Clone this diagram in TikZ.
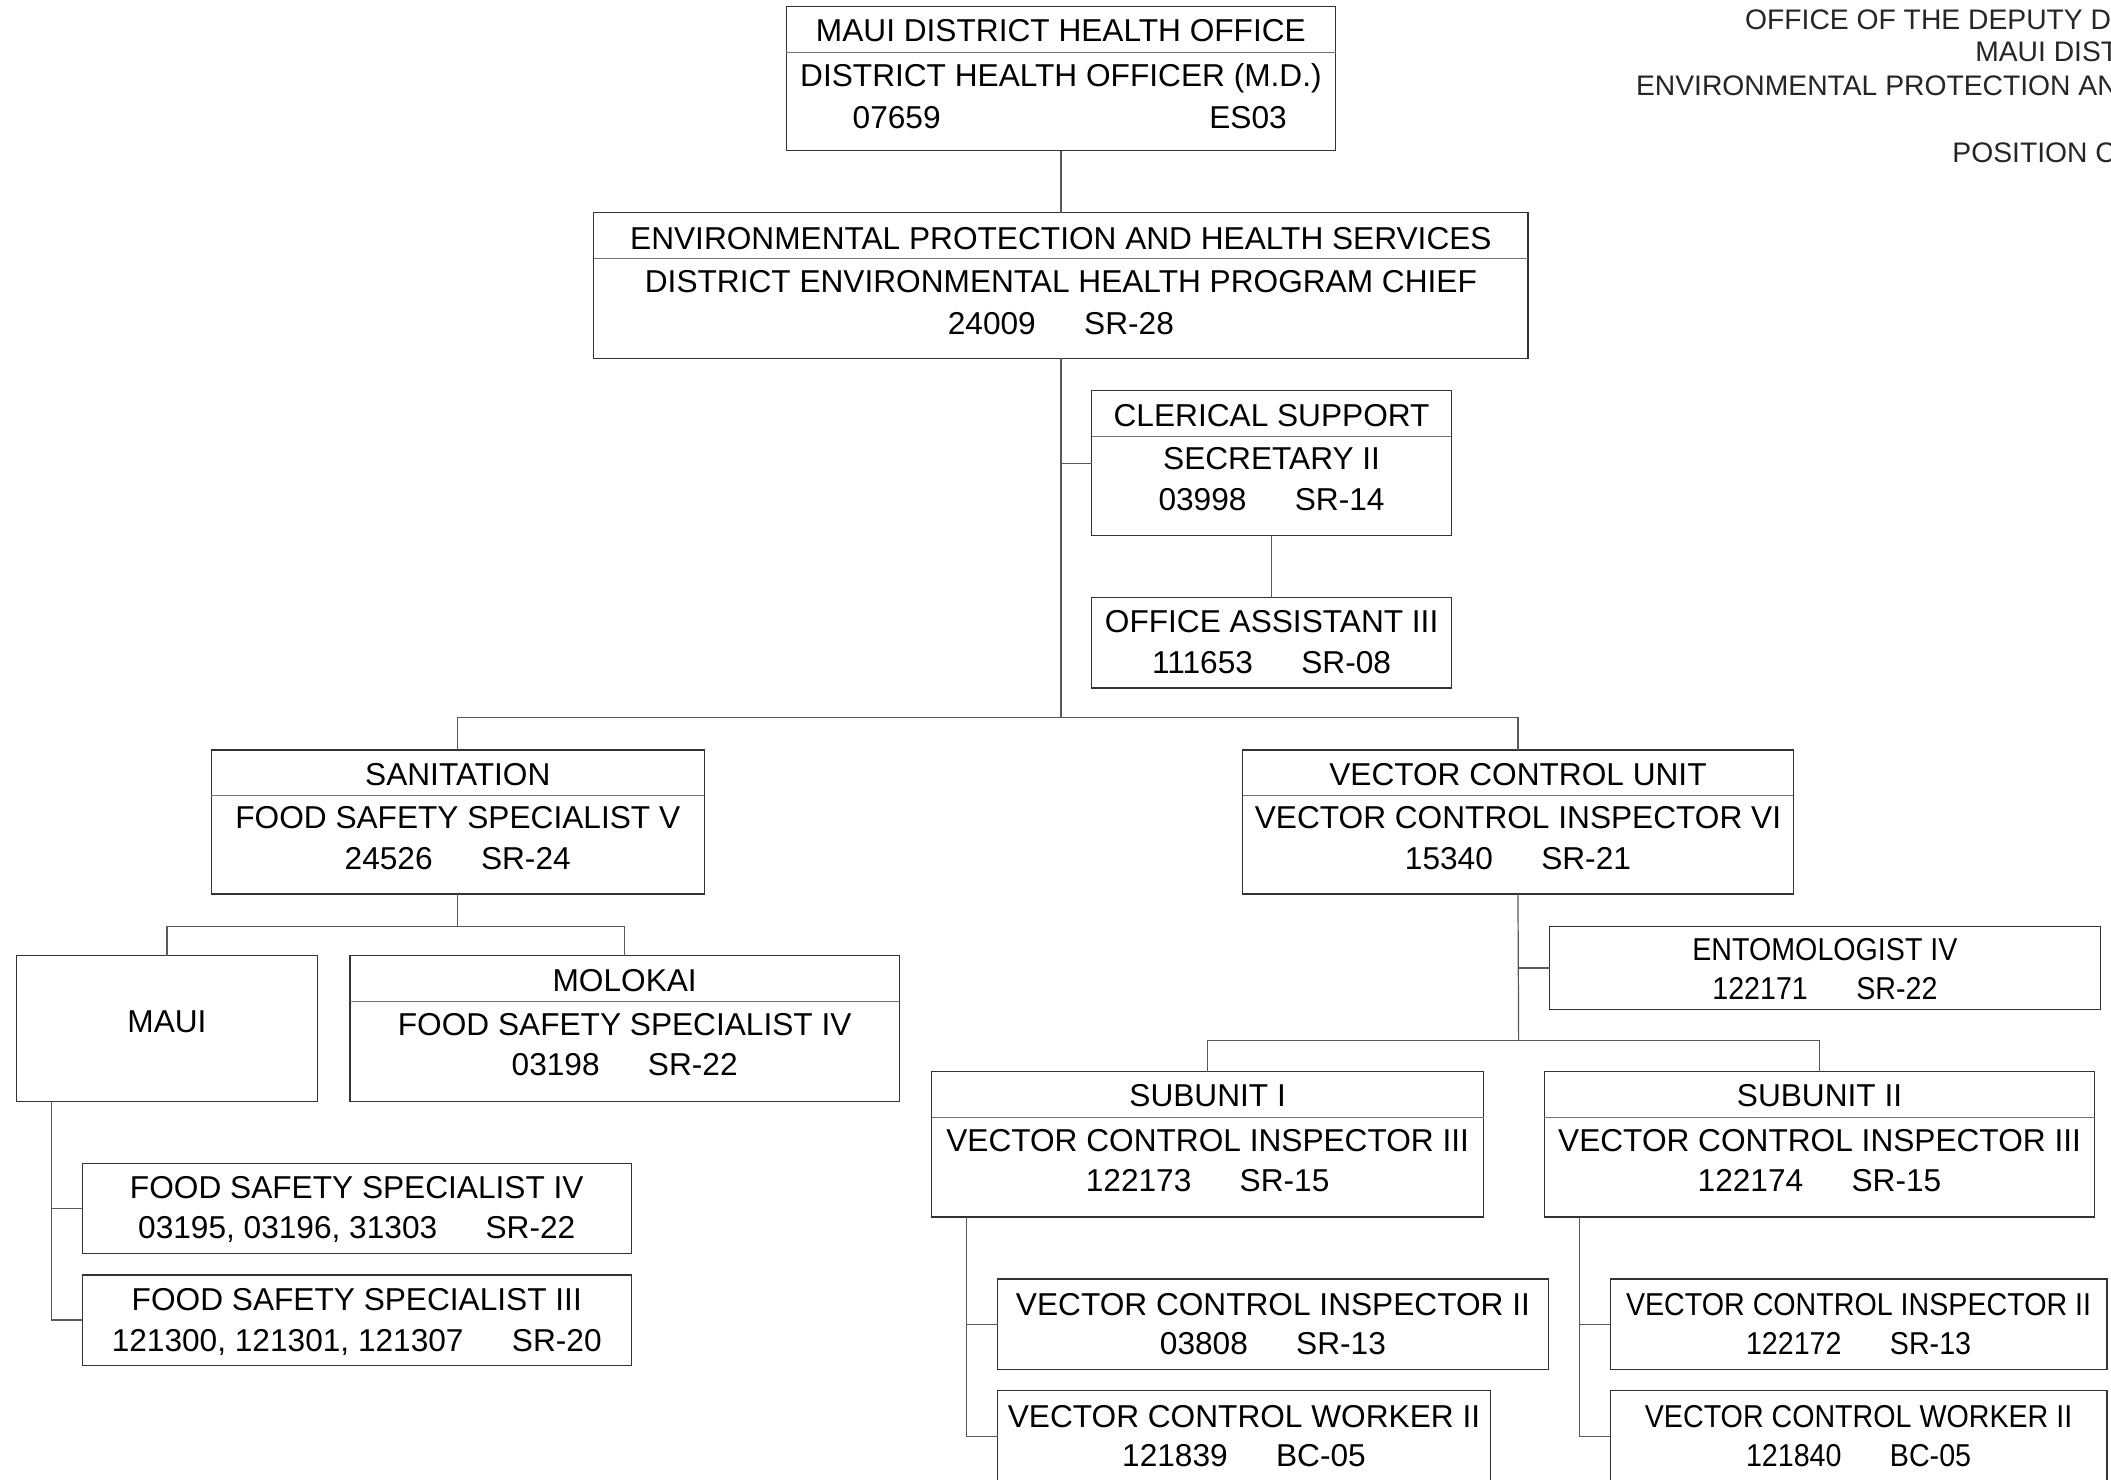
\documentclass[tikz,border=0pt]{standalone}
\usepackage{fontspec}
\setmainfont{Liberation Sans}
\newfontfamily\condfont[FakeStretch=0.905]{Liberation Sans}
\tikzset{
  box/.style={draw=black!80, line width=0.9pt, inner sep=0pt, outer sep=0pt, anchor=north west},
  txt/.style={inner sep=0pt, text height=0.716em, text depth=0pt, yshift=-4.5pt, font=\fontsize{23.5}{28}\selectfont, text=black},
  ctxt/.style={txt, font=\fontsize{23.5}{28}\condfont},
  htxt/.style={inner sep=0pt, text height=0.716em, text depth=0pt, yshift=-4pt, font=\fontsize{21}{25}\selectfont, text=black!85, anchor=west},
  conn/.style={draw=black!65, line width=0.9pt},
  divline/.style={draw=black!55, line width=0.9pt}
}
\newcommand{\gap}{\hspace{1.53em}}
\begin{document}
\begin{tikzpicture}[x=1pt,y=-1pt]
\useasboundingbox (0,0) rectangle (1568,1098.6);
\clip (0,0) rectangle (1568,1098.6);
\fill[white] (0,0) rectangle (1568,1098.6);

% header text (clipped at page edge)
\node[htxt] (h1) at (1296,14) {OFFICE OF THE DEPUTY D};
\node[htxt] (h2) at (1467,38) {MAUI DIST};
\node[htxt] (h3) at (1215,63) {ENVIRONMENTAL PROTECTION AN};
\node[htxt] (h4) at (1450,113) {POSITION C};

% boxes
\node[box, minimum width=408pt, minimum height=107pt] (top) at (584,5) {};
\node[box, minimum width=694pt, minimum height=108pt] (ephs) at (441,158) {};
\node[box, minimum width=267pt, minimum height=108pt] (cler) at (811,290) {};
\node[box, minimum width=267pt, minimum height=67pt] (oa) at (811,444) {};
\node[box, minimum width=366pt, minimum height=107pt] (san) at (157,557) {};
\node[box, minimum width=409pt, minimum height=107pt] (vcu) at (923,557) {};
\node[box, minimum width=224pt, minimum height=108pt] (maui) at (12,710) {};
\node[box, minimum width=408pt, minimum height=108pt] (molo) at (260,710) {};
\node[box, minimum width=408pt, minimum height=67pt] (fssiv) at (61,864) {};
\node[box, minimum width=408pt, minimum height=67pt] (fssiii) at (61,947) {};
\node[box, minimum width=409pt, minimum height=62pt] (ent) at (1151,688) {};
\node[box, minimum width=410pt, minimum height=108pt] (subi) at (692,796) {};
\node[box, minimum width=409pt, minimum height=108pt] (subii) at (1147,796) {};
\node[box, minimum width=409pt, minimum height=67pt] (vciia) at (741,950) {};
\node[box, minimum width=366pt, minimum height=68pt] (vcwa) at (741,1033) {};
\node[box, minimum width=369pt, minimum height=67pt] (vciib) at (1196,950) {};
\node[box, minimum width=369pt, minimum height=68pt] (vcwb) at (1196,1033) {};

% dividers
\foreach \b in {top,ephs,cler,san,vcu,molo,subi,subii}{
  \draw[divline] ([yshift=-34pt]\b.north west) -- ([yshift=-34pt]\b.north east);
}

% texts
\node[txt] (topa) at ([yshift=-18pt]top.north) {MAUI DISTRICT HEALTH OFFICE};
\node[txt] (topb) at ([yshift=-51pt]top.north) {DISTRICT HEALTH OFFICER (M.D.)};
\node[txt] (topc) at ([xshift=-122pt,yshift=-82pt]top.north) {07659};
\node[txt] (topd) at ([xshift=139pt,yshift=-82pt]top.north) {ES03};

\node[txt] (ephsa) at ([yshift=-19pt]ephs.north) {ENVIRONMENTAL PROTECTION AND HEALTH SERVICES};
\node[txt] (ephsb) at ([yshift=-51pt]ephs.north) {DISTRICT ENVIRONMENTAL HEALTH PROGRAM CHIEF};
\node[txt] (ephsc) at ([yshift=-82pt]ephs.north) {24009\gap SR-28};

\node[txt] (clera) at ([yshift=-19pt]cler.north) {CLERICAL SUPPORT};
\node[txt] (clerb) at ([yshift=-51pt]cler.north) {SECRETARY II};
\node[txt] (clerc) at ([yshift=-81pt]cler.north) {03998\gap SR-14};

\node[txt] (oaa) at ([yshift=-18pt]oa.north) {OFFICE ASSISTANT III};
\node[txt] (oab) at ([yshift=-48pt]oa.north) {111653\gap SR-08};

\node[txt] (sana) at ([yshift=-18pt]san.north) {SANITATION};
\node[txt] (sanb) at ([yshift=-50pt]san.north) {FOOD SAFETY SPECIALIST V};
\node[txt] (sanc) at ([yshift=-81pt]san.north) {24526\gap SR-24};

\node[txt] (vcua) at ([yshift=-18pt]vcu.north) {VECTOR CONTROL UNIT};
\node[txt] (vcub) at ([yshift=-50pt]vcu.north) {VECTOR CONTROL INSPECTOR VI};
\node[txt] (vcuc) at ([yshift=-81pt]vcu.north) {15340\gap SR-21};

\node[txt] (mauia) at ([yshift=-49pt]maui.north) {MAUI};

\node[txt] (moloa) at ([yshift=-18pt]molo.north) {MOLOKAI};
\node[txt] (molob) at ([yshift=-51pt]molo.north) {FOOD SAFETY SPECIALIST IV};
\node[txt] (moloc) at ([yshift=-81pt]molo.north) {03198\gap SR-22};

\node[txt] (fssiva) at ([yshift=-18pt]fssiv.north) {FOOD SAFETY SPECIALIST IV};
\node[txt] (fssivb) at ([yshift=-48pt]fssiv.north) {03195, 03196, 31303\gap SR-22};

\node[txt] (fssiiia) at ([yshift=-18pt]fssiii.north) {FOOD SAFETY SPECIALIST III};
\node[txt] (fssiiib) at ([yshift=-49pt]fssiii.north) {121300, 121301, 121307\gap SR-20};

\node[ctxt] (enta) at ([yshift=-17pt]ent.north) {ENTOMOLOGIST IV};
\node[ctxt] (entb) at ([yshift=-46pt]ent.north) {122171\gap SR-22};

\node[txt] (subia) at ([yshift=-18pt]subi.north) {SUBUNIT I};
\node[txt] (subib) at ([yshift=-51pt]subi.north) {VECTOR CONTROL INSPECTOR III};
\node[txt] (subic) at ([yshift=-81pt]subi.north) {122173\gap SR-15};

\node[txt] (subiia) at ([yshift=-18pt]subii.north) {SUBUNIT II};
\node[txt] (subiib) at ([yshift=-51pt]subii.north) {VECTOR CONTROL INSPECTOR III};
\node[txt] (subiic) at ([yshift=-81pt]subii.north) {122174\gap SR-15};

\node[txt] (vciiaa) at ([yshift=-19pt]vciia.north) {VECTOR CONTROL INSPECTOR II};
\node[txt] (vciiab) at ([yshift=-48pt]vciia.north) {03808\gap SR-13};

\node[txt] (vcwaa) at ([yshift=-19pt]vcwa.north) {VECTOR CONTROL WORKER II};
\node[txt] (vcwab) at ([yshift=-48pt]vcwa.north) {121839\gap BC-05};

\node[ctxt] (vciiba) at ([yshift=-19pt]vciib.north) {VECTOR CONTROL INSPECTOR II};
\node[ctxt] (vciibb) at ([yshift=-48pt]vciib.north) {122172\gap SR-13};

\node[ctxt] (vcwba) at ([yshift=-19pt]vcwb.north) {VECTOR CONTROL WORKER II};
\node[ctxt] (vcwbb) at ([yshift=-48pt]vcwb.north) {121840\gap BC-05};

% connectors
\coordinate (busa) at (788,533);
\coordinate (busb) at (340,688);
\coordinate (busc) at (1128,773);
\coordinate (mroot) at ([xshift=26pt]maui.south west);
\coordinate (sroota) at ([xshift=26pt]subi.south west);
\coordinate (srootb) at ([xshift=26pt]subii.south west);

\draw[conn] (top.south) -- (ephs.north);
\draw[conn] (ephs.south) -- (busa);
\draw[conn] (ephs.south |- cler.west) -- (cler.west);
\draw[conn] (cler.south) -- (oa.north);
\draw[conn] (san.north) |- (busa) -| (vcu.north);

\draw[conn] (san.south) -- (busb);
\draw[conn] (maui.north) |- (busb) -| (molo.north);
\draw[conn] (mroot) |- (fssiv.west);
\draw[conn] (mroot) |- (fssiii.west);

\draw[conn] (vcu.south) -- (busc);
\draw[conn] (vcu.south |- ent.west) -- (ent.west);
\draw[conn] (subi.north) |- (busc) -| (subii.north);

\draw[conn] (sroota) |- (vciia.west);
\draw[conn] (sroota) |- (vcwa.west);
\draw[conn] (srootb) |- (vciib.west);
\draw[conn] (srootb) |- (vcwb.west);
\end{tikzpicture}
\end{document}
